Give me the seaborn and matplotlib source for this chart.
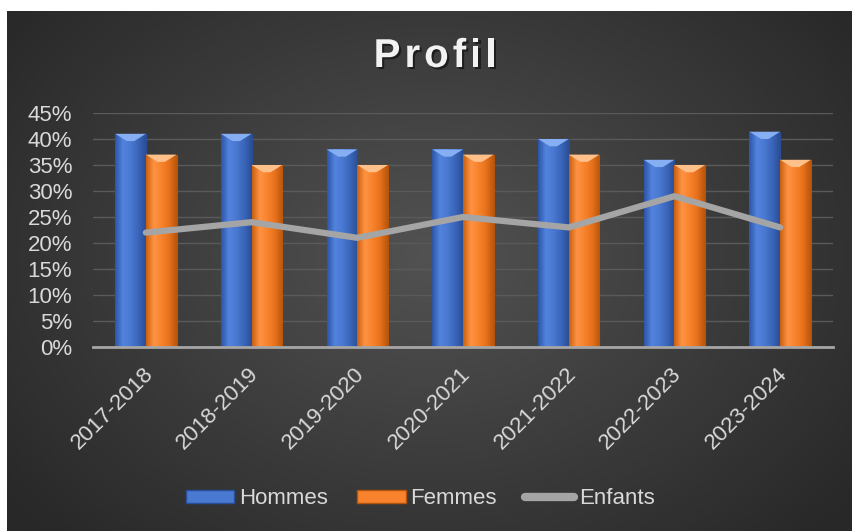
import numpy as np
import pandas as pd
import matplotlib
matplotlib.use("Agg")
import matplotlib.pyplot as plt
import matplotlib.patheffects as pe
import matplotlib.transforms as mtrans
from matplotlib.patches import Patch
from matplotlib.lines import Line2D
from matplotlib.colors import LinearSegmentedColormap, to_hex
import seaborn as sns

categories = ["2017-2018", "2018-2019", "2019-2020", "2020-2021", "2021-2022", "2022-2023", "2023-2024"]
hommes = [0.41, 0.41, 0.38, 0.38, 0.40, 0.36, 0.414]
femmes = [0.37, 0.35, 0.35, 0.37, 0.37, 0.35, 0.36]
enfants = [0.22, 0.24, 0.21, 0.25, 0.23, 0.29, 0.23]
yticks = [0, 0.05, 0.10, 0.15, 0.20, 0.25, 0.30, 0.35, 0.40, 0.45]
ytick_labels = ["0%", "5%", "10%", "15%", "20%", "25%", "30%", "35%", "40%", "45%"]
title = "Profil"
series_names = ["Hommes", "Femmes", "Enfants"]

sns.set_theme(style="dark")
plt.rcParams["font.family"] = ["Liberation Sans", "DejaVu Sans"]

W, H, DPI = 852, 531, 100
fig = plt.figure(figsize=(W / DPI, H / DPI), dpi=DPI, facecolor="white")

# background radial gradient panel
bg = fig.add_axes([7 / W, 0, (W - 7) / W, (H - 11) / H], zorder=-10)
yy, xx = np.mgrid[0:300, 0:500]
cx, cy = 250, 140
r = np.sqrt(((xx - cx) / 320.0) ** 2 + ((yy - cy) / 230.0) ** 2)
r = np.clip(r, 0, 1)
c0 = np.array([0x52, 0x52, 0x52]) / 255
c1 = np.array([0x28, 0x28, 0x28]) / 255
img = c0[None, None, :] * (1 - r[..., None]) + c1[None, None, :] * r[..., None]
bg.imshow(img, aspect="auto", extent=[0, 1, 0, 1], interpolation="bilinear")
bg.set_axis_off()

ax = fig.add_axes([93 / W, 1 - 347 / H, (833 - 93) / W, (347 - 113) / H])
ax.set_facecolor("none")

df = pd.DataFrame({
    "cat": categories * 2,
    "val": hommes + femmes,
    "serie": [series_names[0]] * len(categories) + [series_names[1]] * len(categories),
})
blue = "#4472c4"
orange = "#ed7d31"
sns.barplot(data=df, x="cat", y="val", hue="serie", palette=[blue, orange],
            width=0.58, gap=0, ax=ax, legend=False, zorder=3, saturation=1)

# gradient shading on bars
grads = {
    blue: ["#2d56a6", "#5283de", "#4a79d2", "#3a66ba", "#2b4f96"],
    orange: ["#c9600f", "#ff9344", "#f8832c", "#e8721c", "#b9560d"],
}
for p in list(ax.patches):
    col = to_hex(p.get_facecolor())
    key = blue if abs(int(col[1:3], 16) - 0x44) < 10 else orange
    cmap = LinearSegmentedColormap.from_list("g", grads[key])
    x0, y0 = p.get_x(), p.get_y()
    w, h = p.get_width(), p.get_height()
    im = ax.imshow(np.linspace(0, 1, 64)[None, :], cmap=cmap, aspect="auto",
                   extent=[x0, x0 + w, y0, y0 + h], zorder=3.5)
    im.set_clip_path(p)
    p.set_edgecolor("#2a4f99" if key == blue else "#b5550d")
    p.set_linewidth(0.8)
    tb = 0.014
    light = "#86aef2" if key == blue else "#ffc08a"
    ax.fill([x0, x0 + w, x0 + w * 0.62, x0 + w * 0.38],
            [y0 + h, y0 + h, y0 + h - tb, y0 + h - tb],
            color=light, zorder=3.6, lw=0)

x = np.arange(len(categories))
sns.lineplot(x=x, y=enfants, ax=ax, color="#a5a5a5", lw=4.5, zorder=5,
             solid_capstyle="round", solid_joinstyle="round", legend=False)

ax.set_xlim(-0.5, len(categories) - 0.5)
ax.set_ylim(0, 0.45)
ax.set_yticks(yticks)
ax.set_yticklabels(ytick_labels)
ax.set_xticks(x)
ax.set_xticklabels(categories, rotation=45, ha="right", rotation_mode="anchor")
ax.tick_params(axis="both", colors="#d9d9d9", labelsize=16, length=0)
ax.tick_params(axis="y", pad=15)
ax.tick_params(axis="x", pad=17)
shift = mtrans.ScaledTranslation(3 / 72, 0, fig.dpi_scale_trans)
for lab in ax.get_xticklabels():
    lab.set_va("center")
    lab.set_transform(lab.get_transform() + shift)
ax.set_xlabel("")
ax.set_ylabel("")
ax.grid(axis="y", color="#5a5a5a", lw=1.0, zorder=0)
ax.grid(axis="x", visible=False)
for s in ["top", "right", "left"]:
    ax.spines[s].set_visible(False)
ax.spines["bottom"].set_color("#a6a6a6")
ax.spines["bottom"].set_linewidth(2)
ax.spines["bottom"].set_zorder(6)

# letter-spaced title
fig.canvas.draw()
renderer = fig.canvas.get_renderer()
tkw = dict(fontsize=29, fontweight="bold", color="#f2f2f2", va="center", ha="left",
           path_effects=[pe.withSimplePatchShadow(offset=(1.5, -1.5), shadow_rgbFace="black", alpha=0.5)])
spacing = 4.0
widths = []
for ch in title:
    t = fig.text(0, 0, ch, **tkw)
    widths.append(t.get_window_extent(renderer).width)
    t.remove()
total = sum(widths) + spacing * (len(title) - 1)
xpos = 435 - total / 2
for ch, wd in zip(title, widths):
    fig.text(xpos / W, 1 - 56 / H, ch, **tkw)
    xpos += wd + spacing

handles = [
    Patch(facecolor="#4a79d2", edgecolor="#2a4f99"),
    Patch(facecolor="#f8832c", edgecolor="#b5550d"),
    Line2D([0], [0], color="#a5a5a5", lw=6, solid_capstyle="round"),
]
leg = fig.legend(handles, series_names, loc="center",
                 bbox_to_anchor=(420 / W, 1 - 499 / H), ncol=3, frameon=False,
                 fontsize=16, handlelength=2.2, handleheight=0.55,
                 handletextpad=0.2, columnspacing=1.3)
for t in leg.get_texts():
    t.set_color("#d9d9d9")

fig.savefig("out.png", dpi=DPI, facecolor="white")
